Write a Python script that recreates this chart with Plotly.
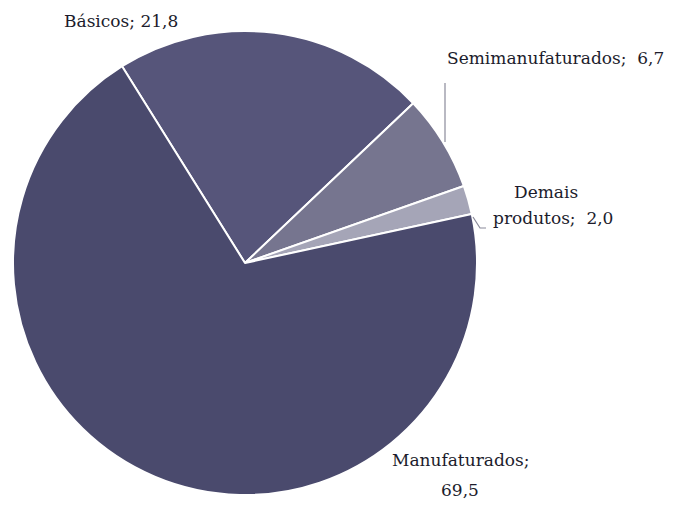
import plotly.graph_objects as go

# Export composition (%)
categories = ["Básicos", "Semimanufaturados", "Demais produtos", "Manufaturados"]
shares = [21.8, 6.7, 2.0, 69.5]
slice_colors = ["#56557a", "#76758f", "#a5a5b7", "#4a4a6d"]

W, H = 675, 516


def px(x):
    return x / W


def py(y):
    return 1 - y / H


def fmt(v):
    return f"{v:.1f}".replace(".", ",")


fig = go.Figure()
fig.add_trace(go.Pie(
    labels=categories,
    values=shares,
    sort=False,
    direction="clockwise",
    rotation=-32,
    marker=dict(colors=slice_colors, line=dict(color="#ffffff", width=2)),
    textinfo="none",
    hoverinfo="label+value",
    domain=dict(x=[px(13), px(477)], y=[py(495), py(31)]),
    showlegend=False,
))

font = dict(family="DejaVu Serif", size=17, color="#1c1c2c")

labels_pos = [
    (f"{categories[0]}; {fmt(shares[0])}", 121, 21, "center"),
    (f"Semimanufaturados;  {fmt(shares[1])}", 555, 58, "center"),
    ("Demais", 546, 192, "center"),
    (f"produtos;  {fmt(shares[2])}", 553, 218, "center"),
    ("Manufaturados;", 460, 460, "center"),
    (fmt(shares[3]), 460, 490, "center"),
]
for text, x, y, anchor in labels_pos:
    fig.add_annotation(text=text, x=px(x), y=py(y), xref="paper", yref="paper",
                       showarrow=False, font=font, xanchor=anchor, yanchor="middle")

# leader lines
line_style = dict(color="#8a8a9a", width=1.2)
fig.add_shape(type="line", xref="paper", yref="paper",
              x0=px(445), y0=py(83), x1=px(445), y1=py(142), line=line_style)
fig.add_shape(type="path", xref="paper", yref="paper",
              path=f"M {px(473)},{py(217)} L {px(480)},{py(228)} L {px(486)},{py(228)}",
              line=line_style)

fig.update_layout(
    width=W, height=H,
    margin=dict(l=0, r=0, t=0, b=0),
    paper_bgcolor="#ffffff",
    plot_bgcolor="#ffffff",
)

fig.write_html("out.html")
